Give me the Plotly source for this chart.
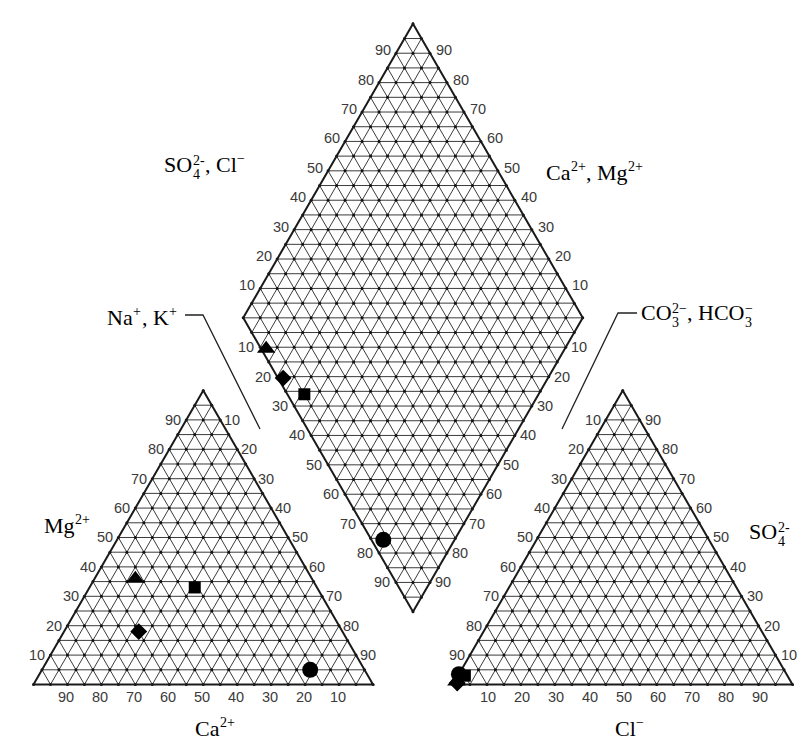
import numpy as np
import plotly.graph_objects as go

# ---------------- sample chemistry (% of total meq/L) ----------------
sample_ids = ["S1", "S2", "S3", "S4"]
ca = [52, 60, 36, 16]
mg = [36, 18, 33, 5]
na_k = [12, 22, 31, 79]
hco3_co3 = [98.5, 98.5, 95.0, 96.5]
so4 = [1.0, 0.5, 3.0, 3.5]
cl = [0.5, 1.0, 2.0, 0.0]

tick_values = [10, 20, 30, 40, 50, 60, 70, 80, 90]

# ---------------- styles ----------------
SYMBOLS = ["triangle-up", "diamond", "square", "circle"]
SIZES = [16, 13, 12, 16]
GRID_COLOR = "#3c3c3c"
EDGE_COLOR = "#1a1a1a"
TICK_FONT = dict(family="Liberation Sans, Arial, sans-serif", size=14.5, color="#3a3a3a")
TITLE_FAMILY = "Liberation Serif, Times New Roman, serif"

# ---------------- layout geometry (unit = triangle side) ----------------
H = np.sqrt(3) / 2
GAP = 0.2356
X_AN = 1 + GAP                     # left vertex of the anion triangle
D_BOTTOM = (1 + GAP / 2, 0.214)    # bottom vertex of the diamond
STEP = 20                          # grid every 5 %

W_PX, H_PX = 805, 740
SCALE = 339.5
ORIGIN_PX = (33.5, 684.5)


def px(x, y):
    """page pixel -> data coordinates"""
    return (x - ORIGIN_PX[0]) / SCALE, (ORIGIN_PX[1] - y) / SCALE


def tri_point(x0, right, top):
    """point in a triangle with left vertex at (x0, 0) given fractions toward right vertex and apex"""
    return x0 + right + top / 2, top * H


def dia_point(a, b):
    """a = Na+K fraction, b = SO4+Cl fraction"""
    bx, by = D_BOTTOM
    return bx - 0.5 * (1 - a) + 0.5 * b, by + H * (1 - a) + H * b


# ---------------- grid ----------------
gx, gy = [], []
ex, ey = [], []
nx, ny = [], []


def seg(p, q, xs, ys):
    xs += [p[0], q[0], None]
    ys += [p[1], q[1], None]


for x0 in (0.0, X_AN):
    for k in range(1, STEP):
        f = k / STEP
        seg(tri_point(x0, 0, f), tri_point(x0, 1 - f, f), gx, gy)
        seg(tri_point(x0, f, 0), tri_point(x0, f, 1 - f), gx, gy)
        seg(tri_point(x0, 0, 1 - f), tri_point(x0, 1 - f, 0), gx, gy)
    corners = [tri_point(x0, 0, 0), tri_point(x0, 1, 0), tri_point(x0, 0, 1), tri_point(x0, 0, 0)]
    ex += [c[0] for c in corners] + [None]
    ey += [c[1] for c in corners] + [None]
    for i in range(STEP + 1):
        for j in range(STEP + 1 - i):
            p = tri_point(x0, i / STEP, j / STEP)
            nx.append(p[0])
            ny.append(p[1])

for k in range(1, STEP):
    f = k / STEP
    seg(dia_point(f, 0), dia_point(f, 1), gx, gy)
    seg(dia_point(0, f), dia_point(1, f), gx, gy)
for j in range(1, 2 * STEP):
    t = j / STEP
    hw = min(t, 2 - t) / 2
    yy = D_BOTTOM[1] + t * H
    seg((D_BOTTOM[0] - hw, yy), (D_BOTTOM[0] + hw, yy), gx, gy)
corners = [dia_point(0, 0), dia_point(1, 0), dia_point(1, 1), dia_point(0, 1), dia_point(0, 0)]
ex += [c[0] for c in corners] + [None]
ey += [c[1] for c in corners] + [None]
for i in range(STEP + 1):
    for j in range(STEP + 1):
        p = dia_point(i / STEP, j / STEP)
        nx.append(p[0])
        ny.append(p[1])

fig = go.Figure()
fig.add_trace(go.Scatter(x=gx, y=gy, mode="lines", line=dict(color=GRID_COLOR, width=1),
                         hoverinfo="skip", showlegend=False))
fig.add_trace(go.Scatter(x=nx, y=ny, mode="markers", marker=dict(color="#111111", size=3),
                         hoverinfo="skip", showlegend=False))
fig.add_trace(go.Scatter(x=ex, y=ey, mode="lines", line=dict(color=EDGE_COLOR, width=2),
                         hoverinfo="skip", showlegend=False))

# leader lines from the diamond titles
for pts in ([(185, 315), (203, 315), (260, 429)], [(637, 313), (618, 313), (562, 429)]):
    d = [px(*p) for p in pts]
    fig.add_trace(go.Scatter(x=[p[0] for p in d], y=[p[1] for p in d], mode="lines",
                             line=dict(color="#222222", width=1.3), hoverinfo="skip",
                             showlegend=False))

# ---------------- samples ----------------
for i, sid in enumerate(sample_ids):
    ct = ca[i] + mg[i] + na_k[i]
    at = hco3_co3[i] + so4[i] + cl[i]
    cx, cy = tri_point(0.0, na_k[i] / ct, mg[i] / ct)
    axp, ayp = tri_point(X_AN, cl[i] / at, so4[i] / at)
    dx, dy = dia_point(na_k[i] / ct, (so4[i] + cl[i]) / at)
    fig.add_trace(go.Scatter(x=[cx, axp, dx], y=[cy, ayp, dy], mode="markers", name=sid,
                             marker=dict(symbol=SYMBOLS[i], size=SIZES[i], color="black"),
                             showlegend=False))

# ---------------- tick labels ----------------
ann = []


def tick(p, text, xanchor, xshift=0, yshift=0):
    ann.append(dict(x=p[0], y=p[1], text=text, showarrow=False, xanchor=xanchor,
                    yanchor="middle", xshift=xshift, yshift=yshift, font=TICK_FONT, borderpad=0))


for v in tick_values:
    f = v / 100
    s = str(v)
    # cation triangle
    tick(tri_point(0.0, 1 - f, 0), s, "center", -1, -12)          # Ca2+
    tick(tri_point(0.0, 0, f), s, "right", -4)                    # Mg2+
    tick(tri_point(0.0, f, 1 - f), s, "left", 3)                  # Na+ + K+
    # anion triangle
    tick(tri_point(X_AN, f, 0), s, "center", 1, -12)              # Cl-
    tick(tri_point(X_AN, 1 - f, f), s, "left", 4)                 # SO4 2-
    tick(tri_point(X_AN, 0, 1 - f), s, "right", -4)               # CO3 + HCO3
    # diamond
    tick(dia_point(0, f), s, "right", -4, 3)                      # SO4 + Cl
    tick(dia_point(1 - f, 1), s, "left", 5, 3)                    # Ca + Mg
    tick(dia_point(f, 0), s, "right", -5)                         # Na + K
    tick(dia_point(1, 1 - f), s, "left", 4)                       # CO3 + HCO3

# ---------------- ion titles (stacked sub/superscripts) ----------------
TIMES_W = {"S": .556, "O": .722, "C": .667, "a": .444, "M": .889, "g": .5, "l": .278,
           "H": .722, "N": .722, "K": .722, ",": .25, " ": .25, "+": .564, "-": .333,
           "\u2212": .564, "I": .333}


def text_w(s, size):
    return sum(TIMES_W.get(ch, .5) for ch in s) * size


def ion_label(x_px, y_px, parts, size=22, small=14):
    x = x_px
    for base, sub, sup in parts:
        xd, yd = px(x, y_px)
        ann.append(dict(x=xd, y=yd, text=base, showarrow=False, xanchor="left", yanchor="middle",
                        borderpad=0, font=dict(family=TITLE_FAMILY, size=size, color="black")))
        x += text_w(base, size)
        w = 0
        for txt, shift in ((sup, 4 if sub else 6), (sub, -10)):
            if not txt:
                continue
            xd, yd = px(x + 0.5, y_px)
            ann.append(dict(x=xd, y=yd, text=txt, showarrow=False, xanchor="left",
                            yanchor="middle", yshift=shift, borderpad=0,
                            font=dict(family=TITLE_FAMILY, size=small, color="black")))
            w = max(w, text_w(txt, small) + 1)
        x += w


ion_label(163, 164, [("SO", "4", "2-"), (", Cl", None, "\u2212")])
ion_label(545, 172, [("Ca", None, "2+"), (", Mg", None, "2+")])
ion_label(106, 317, [("Na", None, "+"), (", K", None, "+")])
ion_label(640, 312, [("CO", "3", "2\u2212"), (", HCO", "3", "\u2212")])
ion_label(43, 525, [("Mg", None, "2+")])
ion_label(748, 531, [("SO", "4", "2-")])
ion_label(194, 728, [("Ca", None, "2+")])
ion_label(614, 728, [("Cl", None, "\u2212")])

fig.update_layout(
    width=W_PX, height=H_PX,
    margin=dict(l=0, r=0, t=0, b=0),
    paper_bgcolor="white", plot_bgcolor="white",
    xaxis=dict(range=[-ORIGIN_PX[0] / SCALE, (W_PX - ORIGIN_PX[0]) / SCALE], visible=False,
               fixedrange=True),
    yaxis=dict(range=[(ORIGIN_PX[1] - H_PX) / SCALE, ORIGIN_PX[1] / SCALE], visible=False,
               fixedrange=True),
    annotations=ann,
    showlegend=False,
)

fig.write_html("out.html")
